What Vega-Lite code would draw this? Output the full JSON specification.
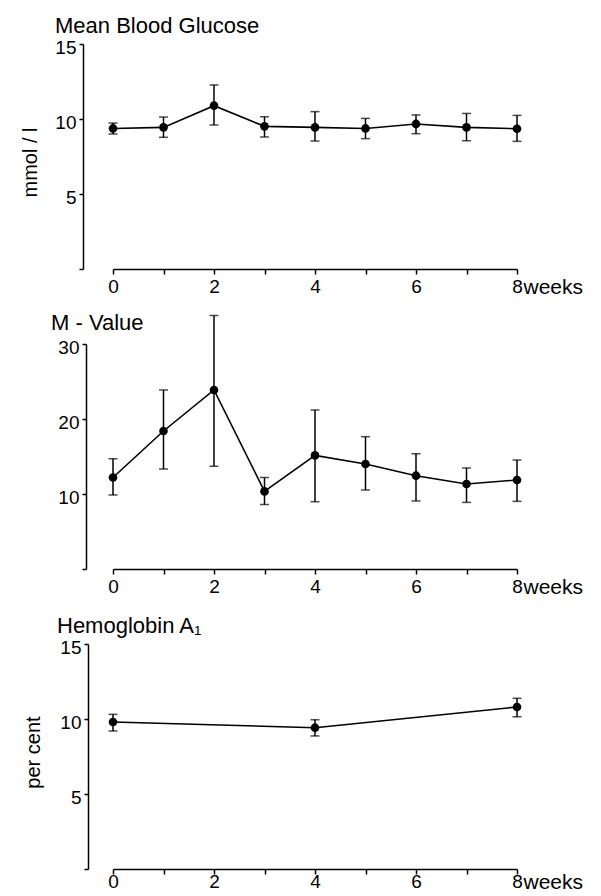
{
  "$schema": "https://vega.github.io/schema/vega-lite/v6.json",
  "background": "white",
  "padding": {"left": 20, "top": 15, "right": 5, "bottom": 2},
  "datasets": {
    "glucose": [
      {"week": 0, "mean": 9.37, "lo": 9.0, "hi": 9.73},
      {"week": 1, "mean": 9.44, "lo": 8.78, "hi": 10.13},
      {"week": 2, "mean": 10.89, "lo": 9.6, "hi": 12.27},
      {"week": 3, "mean": 9.51, "lo": 8.8, "hi": 10.15},
      {"week": 4, "mean": 9.44, "lo": 8.53, "hi": 10.49},
      {"week": 5, "mean": 9.37, "lo": 8.69, "hi": 10.04},
      {"week": 6, "mean": 9.67, "lo": 9.02, "hi": 10.27},
      {"week": 7, "mean": 9.44, "lo": 8.55, "hi": 10.37},
      {"week": 8, "mean": 9.35, "lo": 8.51, "hi": 10.24}
    ],
    "mvalue": [
      {"week": 0, "mean": 12.2, "lo": 9.87, "hi": 14.7},
      {"week": 1, "mean": 18.4, "lo": 13.33, "hi": 23.87},
      {"week": 2, "mean": 23.87, "lo": 13.7, "hi": 33.8},
      {"week": 3, "mean": 10.35, "lo": 8.6, "hi": 12.2},
      {"week": 4, "mean": 15.15, "lo": 8.97, "hi": 21.2},
      {"week": 5, "mean": 14.0, "lo": 10.53, "hi": 17.64},
      {"week": 6, "mean": 12.44, "lo": 9.07, "hi": 15.37},
      {"week": 7, "mean": 11.33, "lo": 8.88, "hi": 13.47},
      {"week": 8, "mean": 11.87, "lo": 9.02, "hi": 14.53}
    ],
    "hba1": [
      {"week": 0, "mean": 9.8, "lo": 9.2, "hi": 10.31},
      {"week": 4, "mean": 9.42, "lo": 8.87, "hi": 9.95},
      {"week": 8, "mean": 10.8, "lo": 10.15, "hi": 11.38}
    ]
  },
  "config": {
    "view": {"stroke": null},
    "font": "Liberation Sans",
    "axis": {
      "grid": false,
      "domainColor": "black",
      "domainWidth": 1.5,
      "tickColor": "black",
      "tickWidth": 1.5,
      "labelColor": "black",
      "labelFont": "Liberation Sans",
      "labelFontSize": 19,
      "titleFont": "Liberation Sans",
      "titleFontSize": 20,
      "titleFontWeight": "normal",
      "titleColor": "black",
      "labelOverlap": false,
      "labelFlush": false
    },
    "title": {"font": "Liberation Sans", "fontSize": 22, "fontWeight": "normal", "color": "black", "anchor": "start", "frame": "group"}
  },
  "bounds": "flush",
  "spacing": 75,
  "vconcat": [
    {
      "width": 404,
      "height": 225,
      "data": {"name": "glucose"},
      "title": {"text": "Mean Blood Glucose", "dx": -58, "dy": 8, "offset": 8},
      "encoding": {
        "x": {"field": "week", "type": "quantitative", "title": "weeks",
          "scale": {"domain": [0, 8], "nice": false, "zero": false},
          "axis": {"values": [0, 1, 2, 3, 4, 5, 6, 7, 8], "tickSize": 5, "labelPadding": 3,
            "labelExpr": "datum.value % 2 == 0 ? datum.label : ''",
            "titleX": 410, "titleY": 24, "titleAlign": "left", "titleBaseline": "alphabetic", "titleFontSize": 21}}
      },
      "layer": [
        {"mark": {"type": "rule", "color": "black", "strokeWidth": 1.5},
          "encoding": {
            "y": {"field": "lo", "type": "quantitative", "title": "mmol / l",
              "scale": {"domain": [0, 15], "nice": false, "zero": false},
              "axis": {"values": [0, 5, 10, 15], "offset": 30, "tickSize": 4, "labelPadding": 3, "labelOffset": 3,
                "labelExpr": "datum.value == 0 ? '' : datum.label",
                "titleX": -53, "titleY": 118, "titleBaseline": "middle", "titleAlign": "center"}},
            "y2": {"field": "hi"}}},
        {"mark": {"type": "tick", "orient": "horizontal", "size": 9, "thickness": 1.5, "color": "black"},
          "encoding": {"y": {"field": "lo", "type": "quantitative", "title": "mmol / l"}}},
        {"mark": {"type": "tick", "orient": "horizontal", "size": 9, "thickness": 1.5, "color": "black"},
          "encoding": {"y": {"field": "hi", "type": "quantitative", "title": "mmol / l"}}},
        {"mark": {"type": "line", "color": "black", "strokeWidth": 1.6},
          "encoding": {"y": {"field": "mean", "type": "quantitative", "title": "mmol / l"}}},
        {"mark": {"type": "point", "filled": true, "color": "black", "size": 75, "opacity": 1},
          "encoding": {"y": {"field": "mean", "type": "quantitative", "title": "mmol / l"}}}
      ]
    },
    {
      "width": 404,
      "height": 225,
      "data": {"name": "mvalue"},
      "title": {"text": "M - Value", "dx": -62, "dy": 28, "offset": 8},
      "encoding": {
        "x": {"field": "week", "type": "quantitative", "title": "weeks",
          "scale": {"domain": [0, 8], "nice": false, "zero": false},
          "axis": {"values": [0, 1, 2, 3, 4, 5, 6, 7, 8], "tickSize": 5, "labelPadding": 3,
            "labelExpr": "datum.value % 2 == 0 ? datum.label : ''",
            "titleX": 410, "titleY": 24, "titleAlign": "left", "titleBaseline": "alphabetic", "titleFontSize": 21}}
      },
      "layer": [
        {"mark": {"type": "rule", "color": "black", "strokeWidth": 1.5},
          "encoding": {
            "y": {"field": "lo", "type": "quantitative", "title": "",
              "scale": {"domain": [0, 30], "nice": false, "zero": false},
              "axis": {"values": [0, 10, 20, 30], "offset": 27, "tickSize": 4, "labelPadding": 3, "labelOffset": 3,
                "labelExpr": "datum.value == 0 ? '' : datum.label"}},
            "y2": {"field": "hi"}}},
        {"mark": {"type": "tick", "orient": "horizontal", "size": 9, "thickness": 1.5, "color": "black"},
          "encoding": {"y": {"field": "lo", "type": "quantitative", "title": ""}}},
        {"mark": {"type": "tick", "orient": "horizontal", "size": 9, "thickness": 1.5, "color": "black"},
          "encoding": {"y": {"field": "hi", "type": "quantitative", "title": ""}}},
        {"mark": {"type": "line", "color": "black", "strokeWidth": 1.6},
          "encoding": {"y": {"field": "mean", "type": "quantitative", "title": ""}}},
        {"mark": {"type": "point", "filled": true, "color": "black", "size": 75, "opacity": 1},
          "encoding": {"y": {"field": "mean", "type": "quantitative", "title": ""}}}
      ]
    },
    {
      "width": 404,
      "height": 225,
      "data": {"name": "hba1"},
      "title": {"text": "Hemoglobin  A₁", "dx": -56, "dy": 8, "offset": 8},
      "encoding": {
        "x": {"field": "week", "type": "quantitative", "title": "weeks",
          "scale": {"domain": [0, 8], "nice": false, "zero": false},
          "axis": {"values": [0, 1, 2, 3, 4, 5, 6, 7, 8], "tickSize": 5, "labelPadding": -2,
            "labelExpr": "datum.value % 2 == 0 ? datum.label : ''",
            "titleX": 410, "titleY": 19, "titleAlign": "left", "titleBaseline": "alphabetic", "titleFontSize": 21}}
      },
      "layer": [
        {"mark": {"type": "rule", "color": "black", "strokeWidth": 1.5},
          "encoding": {
            "y": {"field": "lo", "type": "quantitative", "title": "per cent",
              "scale": {"domain": [0, 15], "nice": false, "zero": false},
              "axis": {"values": [0, 5, 10, 15], "offset": 25, "tickSize": 4, "labelPadding": 3, "labelOffset": 3,
                "labelExpr": "datum.value == 0 ? '' : datum.label",
                "titleX": -55, "titleY": 108, "titleBaseline": "middle", "titleAlign": "center"}},
            "y2": {"field": "hi"}}},
        {"mark": {"type": "tick", "orient": "horizontal", "size": 9, "thickness": 1.5, "color": "black"},
          "encoding": {"y": {"field": "lo", "type": "quantitative", "title": "per cent"}}},
        {"mark": {"type": "tick", "orient": "horizontal", "size": 9, "thickness": 1.5, "color": "black"},
          "encoding": {"y": {"field": "hi", "type": "quantitative", "title": "per cent"}}},
        {"mark": {"type": "line", "color": "black", "strokeWidth": 1.6},
          "encoding": {"y": {"field": "mean", "type": "quantitative", "title": "per cent"}}},
        {"mark": {"type": "point", "filled": true, "color": "black", "size": 75, "opacity": 1},
          "encoding": {"y": {"field": "mean", "type": "quantitative", "title": "per cent"}}}
      ]
    }
  ]
}
